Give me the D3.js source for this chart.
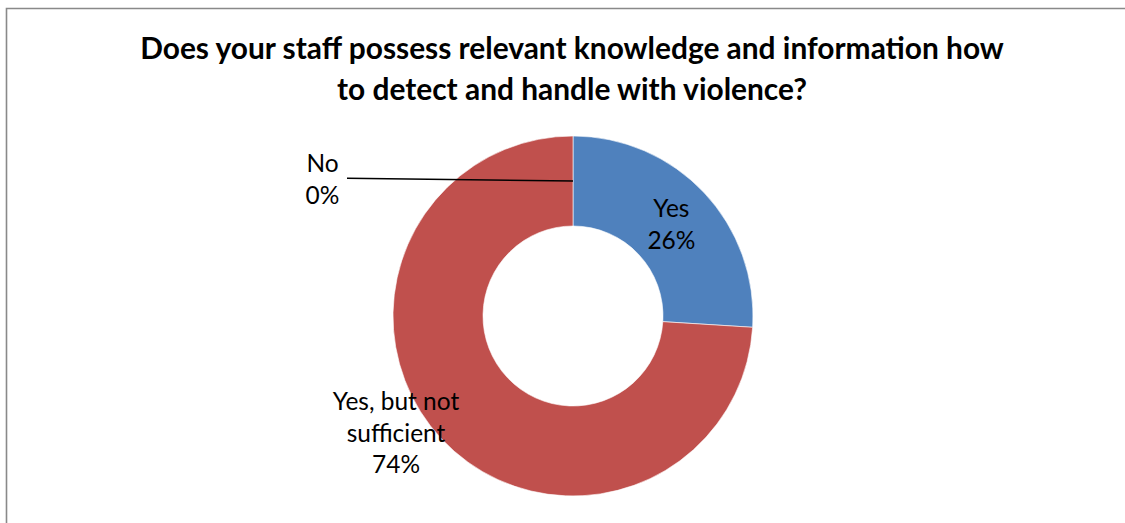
<!DOCTYPE html>
<html>
<head>
<meta charset="utf-8">
<script src="https://cdn.jsdelivr.net/npm/d3@7"></script>
<style>
  html, body { margin: 0; padding: 0; background: #fff; }
  svg { display: block; }
  text { font-family: Lato, "Open Sans", sans-serif; fill: #000; }
</style>
</head>
<body>
<svg id="chart" width="1125" height="523"></svg>
<script>
// Survey answers and their shares (percent)
const categories = ["Yes", "Yes, but not sufficient", "No"];
const values = [26, 74, 0];
const labelLines = [["Yes", "26%"], ["Yes, but not", "sufficient", "74%"], ["No", "0%"]];
const colors = ["#4F81BD", "#C0504D", "#9BBB59"];
const titleLines = [
  "Does your staff possess relevant knowledge and information how",
  "to detect and handle with violence?"
];

const W = 1125, H = 523;
const cx = 573, cy = 316, outerR = 180, innerR = 90;

const svg = d3.select("#chart");

// chart frame (top and left edges visible)
svg.append("path")
  .attr("d", `M6.5,${H} L6.5,8.5 L${W},8.5`)
  .attr("fill", "none")
  .attr("stroke", "#898989")
  .attr("stroke-width", 1.6);

// title, sized so the first line spans its measured width
const title = svg.append("g");
const tBase = [59, 100];
titleLines.forEach((t, i) => {
  title.append("text")
    .attr("x", 572)
    .attr("y", tBase[i])
    .attr("text-anchor", "middle")
    .attr("font-weight", "bold")
    .attr("font-size", 30)
    .text(t);
});
{
  const first = title.select("text").node();
  const len = first.getComputedTextLength();
  const fs = 30 * 864 / len;
  title.selectAll("text").attr("font-size", fs);
}

// donut
const pie = d3.pie().value(d => d).sort(null);
const arcs = pie(values);
const arc = d3.arc().innerRadius(innerR).outerRadius(outerR);
const g = svg.append("g").attr("transform", `translate(${cx},${cy})`);

g.selectAll("path.slice")
  .data(arcs)
  .join("path")
  .attr("class", "slice")
  .attr("d", arc)
  .attr("fill", (d, i) => colors[i])
  .attr("stroke", "#ffffff")
  .attr("stroke-width", d => d.value > 0 ? 0.6 : 0);

// data labels
const labelFs = 25;
const midArc = d3.arc().innerRadius((innerR + outerR) / 2).outerRadius((innerR + outerR) / 2);

function drawLabel(lines, x, yTop, lh) {
  const t = svg.append("text")
    .attr("text-anchor", "middle")
    .attr("font-size", labelFs);
  lines.forEach((s, i) => {
    t.append("tspan").attr("x", x).attr("y", yTop + i * lh).text(s);
  });
  return t;
}

// "Yes" sits on its slice centroid
{
  const c = midArc.centroid(arcs[0]);
  const lh = 32.5;
  const x = cx + c[0], y = cy + c[1];
  drawLabel(labelLines[0], x, y - 7, lh);
}

// "Yes, but not sufficient" placed outside-left of its slice
{
  drawLabel(labelLines[1], 396, 410, 31.5);
}

// "No" with a leader line to its zero-width slice at the top
{
  const c = midArc.centroid(arcs[2]);
  const ex = cx + c[0], ey = cy + c[1];
  svg.append("line")
    .attr("x1", 347).attr("y1", 178.3)
    .attr("x2", ex).attr("y2", ey)
    .attr("stroke", "#000")
    .attr("stroke-width", 1.5);
  drawLabel(labelLines[2], 322.5, 172, 32);
}

// keep label sizes consistent with the measured label width
{
  const probe = svg.append("text").attr("font-size", labelFs).text("Yes, but not");
  const len = probe.node().getComputedTextLength();
  probe.remove();
  const fs = labelFs * 126.5 / len;
  svg.selectAll("text[font-size='" + labelFs + "']").attr("font-size", fs);
}
</script>
</body>
</html>
